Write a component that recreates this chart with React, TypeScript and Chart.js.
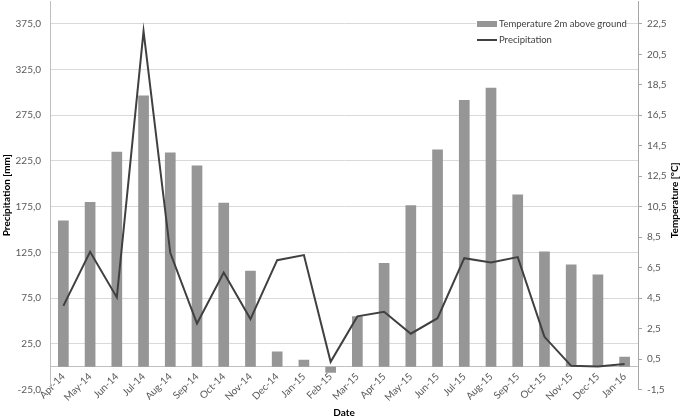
import { useEffect, useRef } from 'react';
import { Chart, registerables } from 'chart.js';

Chart.register(...registerables);

const categories = [
  'Apr-14', 'May-14', 'Jun-14', 'Jul-14', 'Aug-14', 'Sep-14', 'Oct-14', 'Nov-14', 'Dec-14',
  'Jan-15', 'Feb-15', 'Mar-15', 'Apr-15', 'May-15', 'Jun-15', 'Jul-15', 'Aug-15', 'Sep-15',
  'Oct-15', 'Nov-15', 'Dec-15', 'Jan-16',
];

const temperature = [
  9.6, 10.8, 14.1, 17.8, 14.05, 13.2, 10.75, 6.3, 1.0, 0.45, -0.4, 3.3,
  6.8, 10.6, 14.25, 17.5, 18.3, 11.3, 7.55, 6.7, 6.05, 0.65,
];

const precipitation = [
  66.5, 125.6, 75.7, 367, 124.5, 47.2, 103, 52, 116.5, 122, 5.3, 55,
  60, 36, 53, 118.7, 114, 119.8, 32.6, 0.9, 0.2, 3,
];

const precipTicks = [-25, 25, 75, 125, 175, 225, 275, 325, 375];
const tempTicks = [-1.5, 0.5, 2.5, 4.5, 6.5, 8.5, 10.5, 12.5, 14.5, 16.5, 18.5, 20.5, 22.5];

const FONT = 'Lato';
const fmt = (v: number) => Number(v).toFixed(1).replace('.', ',');

const overlayPlugin = {
  id: 'overlay',
  afterDraw(chart: any) {
    const { ctx, chartArea } = chart;
    const ds = chart.data.datasets;
    ctx.save();
    // legend
    const lx = chartArea.right - 161;
    const ly1 = chartArea.top + 23;
    const ly2 = chartArea.top + 39;
    ctx.fillStyle = '#ffffff';
    ctx.fillRect(lx - 1, ly1 - 7, 150, 30);
    ctx.fillStyle = ds[0].backgroundColor;
    ctx.fillRect(lx, ly1 - 3, 20, 6);
    ctx.strokeStyle = ds[1].borderColor;
    ctx.lineWidth = 2;
    ctx.beginPath();
    ctx.moveTo(lx, ly2);
    ctx.lineTo(lx + 20, ly2);
    ctx.stroke();
    ctx.fillStyle = '#404040';
    ctx.font = `9.5px ${FONT}`;
    ctx.textBaseline = 'middle';
    ctx.textAlign = 'left';
    ctx.fillText(ds[0].label, lx + 22, ly1);
    ctx.fillText(ds[1].label, lx + 22, ly2);
    // right axis title (reads bottom to top)
    ctx.translate(chart.width - 10, (chartArea.top + chartArea.bottom) / 2 + 5);
    ctx.rotate(-Math.PI / 2);
    ctx.textAlign = 'center';
    ctx.fillStyle = '#000000';
    ctx.font = `bold 10px ${FONT}`;
    ctx.fillText('Temperature [°C]', 0, 0);
    ctx.restore();
  },
};

export default function App() {
  const canvasRef = useRef<HTMLCanvasElement | null>(null);

  useEffect(() => {
    document.body.style.margin = '0';
    const canvas = canvasRef.current;
    if (!canvas) return;
    const chart = new Chart(canvas, {
      type: 'bar',
      data: {
        labels: categories,
        datasets: [
          {
            type: 'bar',
            label: 'Temperature 2m above ground',
            data: temperature,
            yAxisID: 'y1',
            backgroundColor: '#969696',
            barPercentage: 0.4,
            categoryPercentage: 1,
            order: 1,
          },
          {
            type: 'line',
            label: 'Precipitation',
            data: precipitation,
            yAxisID: 'y',
            borderColor: '#404040',
            backgroundColor: '#404040',
            borderWidth: 2,
            pointRadius: 0,
            tension: 0,
            order: 0,
          },
        ] as any,
      },
      options: {
        responsive: false,
        animation: false,
        layout: { padding: { top: 1, bottom: 28.5, left: 0, right: 0 }, autoPadding: false },
        plugins: {
          legend: { display: false },
          tooltip: { enabled: false },
        },
        scales: {
          x: {
            position: { y: 0 } as any,
            grid: { display: false, drawTicks: false },
            border: { color: '#bfbfbf', width: 1 },
            ticks: {
              minRotation: 45,
              maxRotation: 45,
              autoSkip: false,
              color: '#595959',
              font: { family: FONT, size: 10 },
              padding: 4,
            },
            title: {
              display: true,
              text: 'Date',
              color: '#000000',
              font: { family: FONT, size: 10, weight: 'bold' },
              padding: { top: -1, bottom: 0 },
            },
          },
          y: {
            position: 'left',
            min: -25,
            max: 400,
            afterBuildTicks: (s: any) => {
              s.ticks = precipTicks.map((v) => ({ value: v }));
            },
            afterFit: (s: any) => {
              s.width = 50;
              s.paddingTop = 0;
              s.paddingBottom = 0;
            },
            grid: {
              color: (c: any) => (c.tick && c.tick.value === -25 ? 'rgba(0,0,0,0)' : '#d9d9d9'),
              drawTicks: false,
            },
            border: { color: '#bfbfbf' },
            ticks: {
              callback: (v: any) => fmt(v),
              padding: 9,
              color: '#595959',
              font: { family: FONT, size: 10 },
            },
            title: {
              display: true,
              text: 'Precipitation [mm]',
              color: '#000000',
              font: { family: FONT, size: 10, weight: 'bold' },
              padding: { top: 1, bottom: 0 },
            },
          },
          y1: {
            position: 'right',
            min: -1.5,
            max: 24,
            afterBuildTicks: (s: any) => {
              s.ticks = tempTicks.map((v) => ({ value: v }));
            },
            afterFit: (s: any) => {
              s.width = 47;
              s.paddingTop = 0;
              s.paddingBottom = 0;
            },
            grid: { drawOnChartArea: false, drawTicks: true, tickLength: 4, color: '#a6a6a6' },
            border: { color: '#a6a6a6' },
            ticks: {
              callback: (v: any) => fmt(v),
              padding: 5,
              color: '#595959',
              font: { family: FONT, size: 10 },
            },
            title: { display: false },
          },
        },
      } as any,
      plugins: [overlayPlugin],
    });
    return () => chart.destroy();
  }, []);

  return (
    <div style={{ width: 685, height: 418, background: '#ffffff' }}>
      <canvas ref={canvasRef} width={685} height={418} />
    </div>
  );
}
